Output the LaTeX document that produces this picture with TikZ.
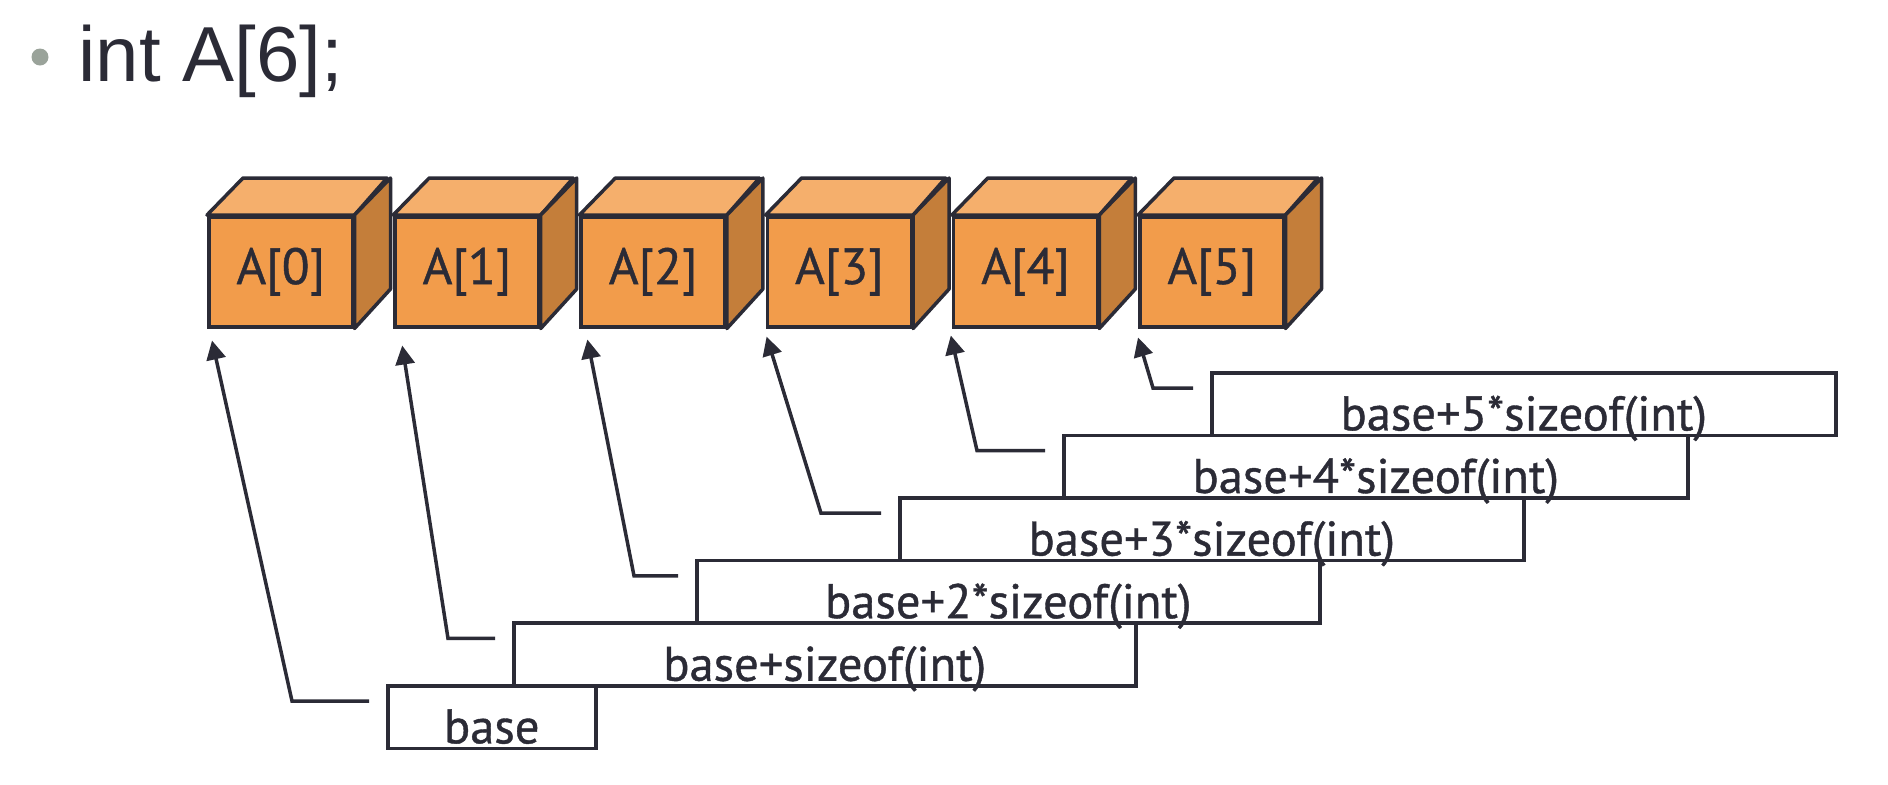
\documentclass[tikz,border=0pt]{standalone}
\usepackage{fontspec}
\setmainfont{Liberation Sans}
\newfontfamily\labfont[FakeBold=0.8]{PT Sans}
\usetikzlibrary{arrows.meta}
\definecolor{ink}{HTML}{2B2B36}
\definecolor{cfront}{HTML}{F29C4B}
\definecolor{ctop}{HTML}{F5AF6C}
\definecolor{cside}{HTML}{C47E3A}
\definecolor{bullet}{HTML}{9AA39A}
\tikzset{
  frontface/.style={draw=ink, line width=1.75pt, fill=cfront, minimum width=72pt, minimum height=55pt, inner sep=0pt, font=\labfont\fontsize{25.5pt}{27pt}\selectfont, text=ink},
  topface/.style={draw=ink, line width=1.75pt, fill=ctop, line join=round},
  sideface/.style={draw=ink, line width=1.75pt, fill=cside, line join=round},
  lbox/.style={draw=ink, line width=1.75pt, anchor=north west, minimum height=31.3pt, text height=28.8pt, text depth=2.5pt, inner ysep=0pt, inner xsep=0pt, font=\labfont\fontsize{24.3pt}{26pt}\selectfont, text=ink},
  arr/.style={draw=ink, line width=1.75pt, -{Triangle[length=9.5pt, width=9.5pt]}},
}
\begin{document}
\begin{tikzpicture}[x=0.5pt, y=-0.5pt]
\useasboundingbox (0,0) rectangle (1888,784);
% title
\fill[bullet] (40,57) circle (8.5);
\node[anchor=base west, inner sep=0pt, text=ink, font=\fontsize{39pt}{44pt}\selectfont] (title) at (78,81) {int A[6];};
% cubes
\foreach \i in {0,...,5}{
  \pgfmathsetmacro{\L}{207+186.2*\i}
  \node[frontface, anchor=north west] (c\i) at (\L,215) {A[\i]};
  \draw[topface] (c\i.north west) -- ++(36,-37) -- ++(144,0) -- (c\i.north east) -- cycle;
  \draw[sideface] (c\i.north east) -- ++(36,-37) -- ++(0,111) -- (c\i.south east) -- cycle;
}
% label boxes
\node[lbox, minimum width=104pt] (b0) at (386,684) {base};
\node[lbox, minimum width=311pt] (b1) at (512,621.4) {base+sizeof(int)};
\node[lbox, minimum width=311.5pt] (b2) at (695,558.8) {base+2*sizeof(int)};
\node[lbox, minimum width=312pt] (b3) at (898,496.2) {base+3*sizeof(int)};
\node[lbox, minimum width=312pt] (b4) at (1062,433.6) {base+4*sizeof(int)};
\node[lbox, minimum width=312pt] (b5) at (1210,371) {base+5*sizeof(int)};
% connectors
\draw[arr] ([shift={(-17,17)}]b0.north west) -- ++(-77,0) -- ([shift={(5,12)}]c0.south west);
\draw[arr] ([shift={(-17,17)}]b1.north west) -- ++(-47,0) -- ([shift={(9,17)}]c1.south west);
\draw[arr] ([shift={(-17,17)}]b2.north west) -- ++(-44,0) -- ([shift={(8,11)}]c2.south west);
\draw[arr] ([shift={(-17,17)}]b3.north west) -- ++(-60,0) -- ([shift={(1,8)}]c3.south west);
\draw[arr] ([shift={(-17,17)}]b4.north west) -- ++(-68,0) -- ([shift={(-1,7)}]c4.south west);
\draw[arr] ([shift={(-17,17)}]b5.north west) -- ++(-40,0) -- ([shift={(0,9)}]c5.south west);
\end{tikzpicture}
\end{document}
